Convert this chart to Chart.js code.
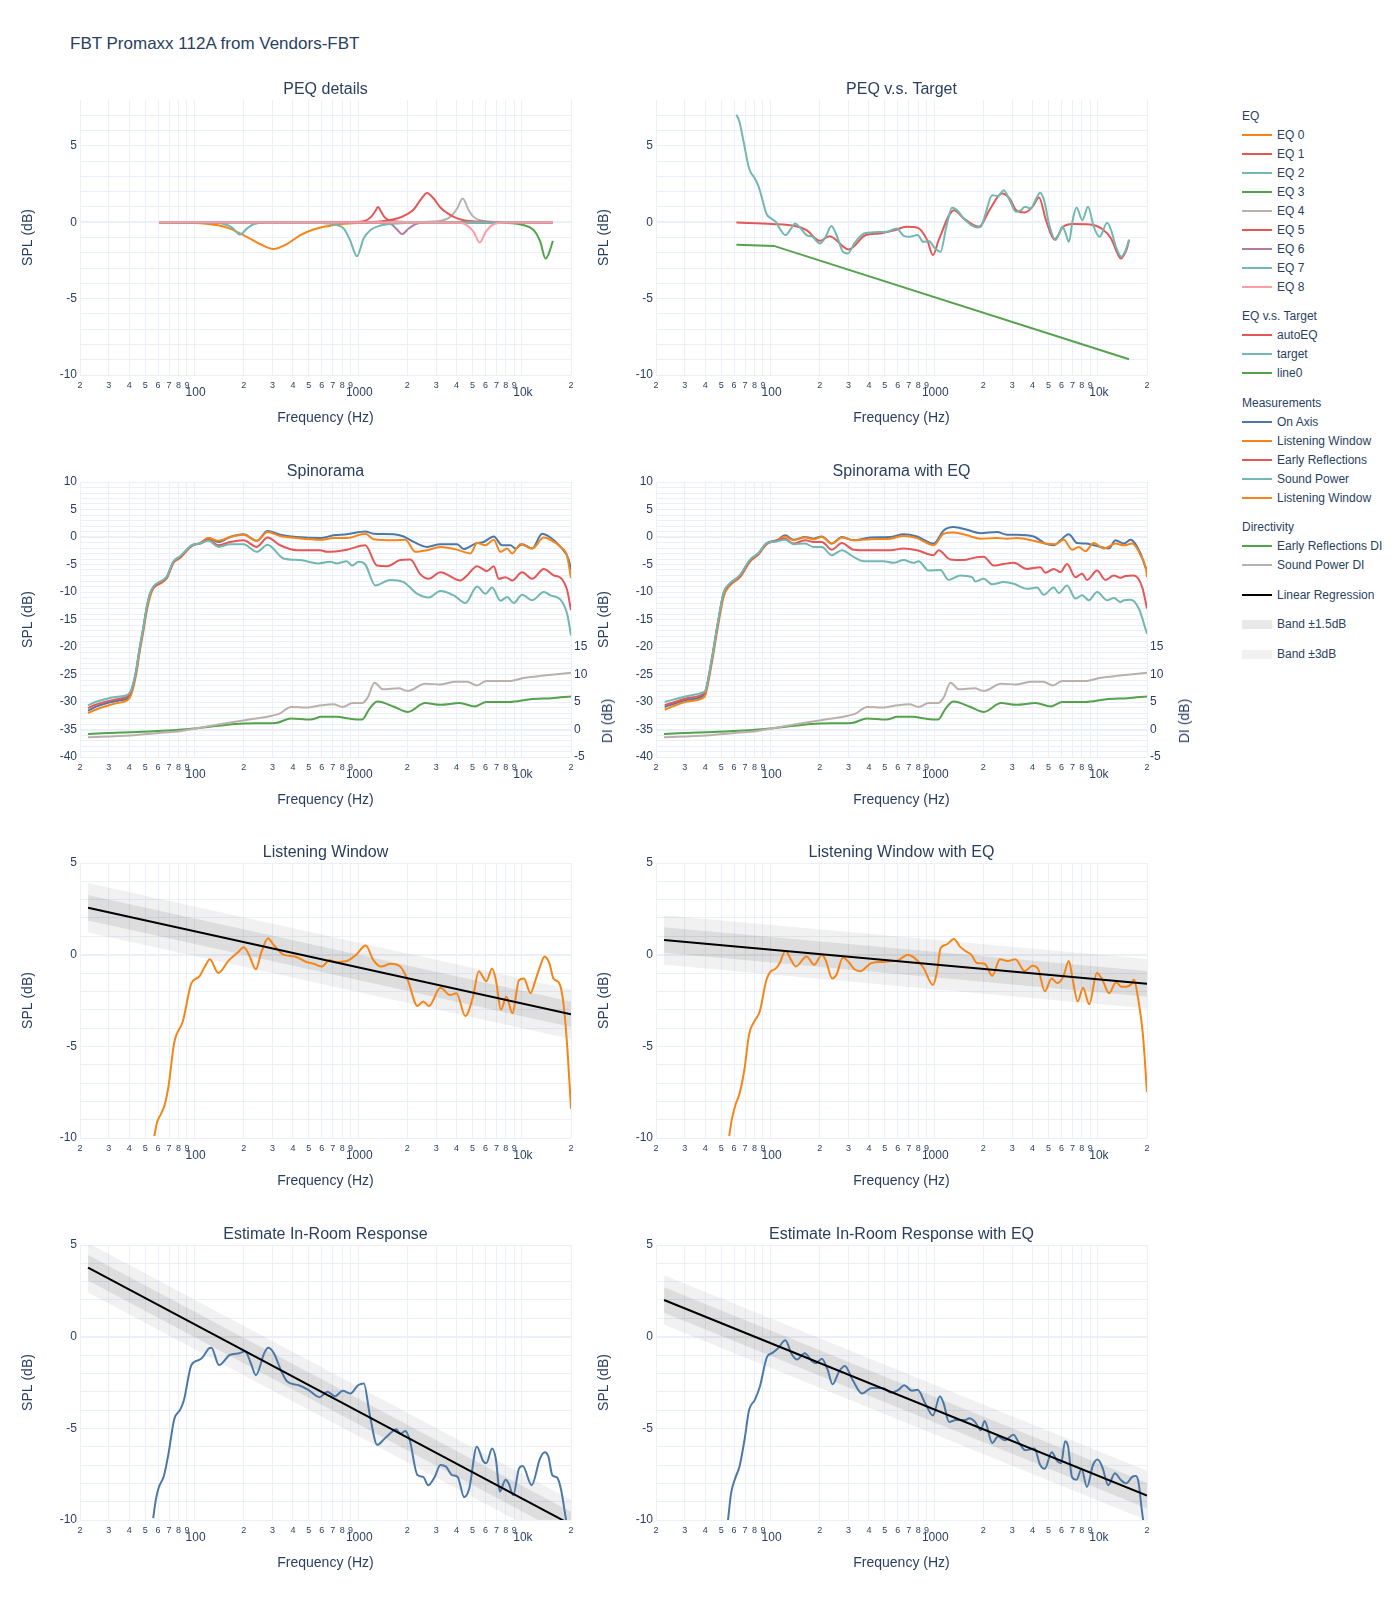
<!DOCTYPE html>
<html>
<head>
<meta charset="utf-8">
<title>FBT Promaxx 112A from Vendors-FBT</title>
<script src="https://cdn.jsdelivr.net/npm/chart.js@4.4.1/dist/chart.umd.min.js"></script>
<style>
    body { margin: 0; background: #fff; font-family: "Liberation Sans", Arial, sans-serif; color: #2a3f5f; }
    #page { position: relative; width: 1400px; height: 1600px; overflow: hidden; }
    #page canvas { position: absolute; }
    .main-title { position: absolute; left: 70px; top: 34px; font-size: 17px; line-height: 20px; z-index: 2; }
    .vtitle { position: absolute; font-size: 14px; white-space: nowrap; transform: translate(-50%, -50%) rotate(-90deg); z-index: 2; }
    #legend { position: absolute; left: 1242px; top: 106px; font-size: 12px; z-index: 2; }
    .lg-group + .lg-group { margin-top: 10.6px; }
    .lg-row { height: 19px; display: flex; align-items: center; white-space: nowrap; }
    .lg-sw { width: 30px; height: 2px; margin-right: 5px; flex: none; }
    .lg-sw.band { height: 9px; }
</style>
</head>
<body>
<div id="page">
    <div class="main-title">FBT Promaxx 112A from Vendors-FBT</div>
    <div class="vtitle" style="left:607px; top:721px;">DI (dB)</div>
    <div class="vtitle" style="left:1184px; top:721px;">DI (dB)</div>
    <div id="legend"></div>
</div>
<script>
// ---- axis ticks ----
const freqTicks = [20, 30, 40, 50, 60, 70, 80, 90, 100, 200, 300, 400, 500, 600, 700, 800, 900,
    1000, 2000, 3000, 4000, 5000, 6000, 7000, 8000, 9000, 10000, 20000];
const freqTickLabels = ['2', '3', '4', '5', '6', '7', '8', '9', '100', '2', '3', '4', '5', '6', '7', '8', '9',
    '1000', '2', '3', '4', '5', '6', '7', '8', '9', '10k', '2'];
const majorFreqTicks = [100, 1000, 10000];
const diTicks = [-5, 0, 5, 10, 15];

// ---- PEQ details ----
const eqLabels = ['EQ 0', 'EQ 1', 'EQ 2', 'EQ 3', 'EQ 4', 'EQ 5', 'EQ 6', 'EQ 7', 'EQ 8'];
const eqColors = ['#f58518', '#e45756', '#72b7b2', '#54a24b', '#bab0ac', '#e45756', '#b279a2', '#72b7b2', '#ff9da6'];
const eq0Freq = [61, 100, 118, 140, 165, 209, 253, 304, 366, 444, 534, 650, 780, 1000, 2000, 15500];
const eq0Gain = [-0.02, -0.05, -0.1, -0.2, -0.42, -0.96, -1.44, -1.75, -1.44, -0.85, -0.48, -0.26, -0.13, -0.05, 0, 0];
const eq1Freq = [61, 1000, 1100, 1200, 1270, 1324, 1390, 1460, 1550, 1700, 2000, 15500];
const eq1Gain = [0, 0.02, 0.08, 0.35, 0.7, 1.0, 0.65, 0.3, 0.12, 0.05, 0.02, 0];
const eq2Freq = [61, 120, 150, 170, 190, 210, 235, 280, 15500];
const eq2Gain = [0, -0.02, -0.1, -0.35, -0.81, -0.4, -0.1, -0.02, 0];
const eq3Freq = [61, 5000, 7830, 10320, 11840, 12990, 13970, 14640, 15500];
const eq3Gain = [0, 0, -0.04, -0.2, -0.52, -1.29, -2.38, -2.05, -1.22];
const eq4Freq = [61, 2500, 3184, 3660, 4030, 4360, 4740, 5080, 5580, 7040, 15500];
const eq4Gain = [0, 0.02, 0.09, 0.35, 0.9, 1.55, 0.79, 0.35, 0.13, 0.02, 0];
const eq5Freq = [61, 1000, 1370, 1730, 2000, 2186, 2402, 2638, 2898, 3184, 3498, 3840, 4422, 5580, 8000, 15500];
const eq5Gain = [0, 0.01, 0.05, 0.24, 0.53, 0.83, 1.44, 1.92, 1.55, 0.96, 0.61, 0.35, 0.13, 0.04, 0, 0];
const eq6Freq = [61, 1300, 1578, 1730, 1856, 2040, 2300, 2800, 15500];
const eq6Gain = [0, -0.02, -0.1, -0.48, -0.78, -0.41, -0.09, -0.02, 0];
const eq7Freq = [61, 500, 645, 750, 816, 896, 984, 1081, 1187, 1370, 1730, 2500, 15500];
const eq7Gain = [0, -0.02, -0.08, -0.2, -0.4, -1.2, -2.23, -1.07, -0.52, -0.22, -0.09, -0.02, 0];
const eq8Freq = [61, 4000, 4422, 5080, 5540, 6030, 6750, 8000, 15500];
const eq8Gain = [0, -0.02, -0.08, -0.63, -1.33, -0.63, -0.13, -0.02, 0];
const eqFreqs = [eq0Freq, eq1Freq, eq2Freq, eq3Freq, eq4Freq, eq5Freq, eq6Freq, eq7Freq, eq8Freq];
const eqGains = [eq0Gain, eq1Gain, eq2Gain, eq3Gain, eq4Gain, eq5Gain, eq6Gain, eq7Gain, eq8Gain];

// ---- PEQ v.s. Target ----
const targetFreq = [62, 64.7, 68.3, 74.1, 80.3, 84.8, 89.5, 94.4, 101.3, 108, 114, 123.6, 134, 141.4, 153.3, 166.2,
    180.2, 200.7, 217.7, 236, 255.8, 277.5, 297.6, 326, 373, 438.6, 515, 590, 657, 712, 793, 860, 933, 1010, 1096,
    1188, 1288, 1397, 1515, 1687, 1829, 1930, 2036, 2268, 2458, 2668, 2892, 3170, 3398, 3588, 3890, 4216, 4450,
    4696, 5090, 5520, 5824, 6082, 6316, 6666, 7034, 7424, 8048, 8726, 9460, 10260, 11426, 12062, 12932, 13948,
    14956, 15538];
const targetSpl = [7.05, 6.57, 5.37, 3.52, 2.86, 2.32, 1.45, 0.57, 0.24, 0.02, -0.41, -0.84, -0.41, -0.08, -0.41,
    -0.84, -0.95, -1.39, -0.95, -0.25, -0.95, -1.93, -2.04, -1.39, -0.74, -0.65, -0.62, -0.41, -0.91, -0.95, -0.84,
    -1.28, -1.24, -1.71, -1.93, -0.30, 0.94, 0.73, 0.25, -0.19, -0.34, -0.30, 0.36, 1.77, 1.71, 2.10, 1.45, 0.68,
    0.79, 1.01, 0.90, 1.56, 1.93, 1.45, -0.30, -1.17, -0.74, -0.30, -0.62, -1.28, 0.14, 0.97, 0.14, 1.01, -0.30,
    -0.95, -0.04, -0.52, -1.61, -2.26, -1.71, -1.13];
const autoEqFreq = [62, 102.4, 141.4, 166.2, 200.7, 229.7, 300.8, 383, 462.8, 574, 675, 793, 908, 984, 1067, 1324,
    1515, 1879, 2209, 2596, 2892, 3170, 3588, 3996, 4378, 4826, 5432, 6148, 7034, 8966, 10538, 12062, 12932,
    13802, 14956, 15538];
const autoEqSpl = [-0.02, -0.12, -0.25, -0.52, -1.22, -0.91, -1.78, -0.84, -0.74, -0.52, -0.30, -0.36, -1.17, -2.15,
    -1.17, 0.79, 0.25, -0.30, 0.90, 1.88, 1.56, 0.79, 0.64, 1.01, 1.62, 0.14, -1.13, -0.30, -0.12, -0.15, -0.41,
    -1.06, -1.82, -2.37, -1.82, -1.2];
const line0Freq = [62, 105, 15538];
const line0Spl = [-1.47, -1.55, -8.97];

// ---- Spinorama ----
const onAxisFreq = [22.4, 24.9, 30.1, 35.0, 39.0, 41.0, 43.9, 46.1, 48.7, 51.1, 53.6, 56.2, 61.7, 67.8, 74.5, 81.8,
    96.4, 108.4, 121.9, 140.4, 165.4, 199.5, 240.8, 279.8, 334.4, 422.8, 587.6, 708.6, 855, 1107, 1245, 1650, 1899,
    2186, 2638, 3184, 4026, 4422, 5212, 5860, 6746, 7586, 8532, 9154, 10054, 11578, 13326, 14986, 17254, 19400, 20000];
const onAxisSpl = [-31.6, -30.9, -30.1, -29.7, -29.3, -28.3, -24.8, -20.8, -16.8, -13.0, -10.4, -9.1, -8.2, -7.3,
    -4.5, -3.6, -1.5, -1.1, -0.2, -0.9, 0.0, 0.5, -0.7, 1.1, 0.4, 0.0, -0.2, 0.3, 0.5, 1.0, 0.6, 0.5, 0.1, -0.9,
    -1.8, -1.3, -1.3, -2.2, -1.2, -0.9, 0.1, -1.5, -1.5, -2.1, -1.3, -2.1, 0.6, -0.1, -1.8, -4.2, -6.0];
const lwFreq = [22.4, 24.9, 30.1, 35.0, 39.0, 41.0, 43.9, 46.1, 48.7, 51.1, 53.6, 56.2, 61.7, 67.8, 74.5, 81.8, 96.4,
    108.4, 121.9, 140.4, 165.4, 199.5, 240.8, 279.8, 334.4, 422.8, 587.6, 708.6, 855, 1107, 1245, 1650, 1944, 2238,
    2638, 3184, 4026, 4422, 4856, 5336, 6000, 6746, 7410, 8140, 8736, 9820, 11578, 13642, 14986, 17254, 18952, 20000];
const lwSpl = [-32.0, -31.4, -30.6, -30.1, -29.7, -28.7, -25.3, -21.3, -17.3, -13.5, -10.9, -9.3, -8.5, -7.5, -4.7,
    -3.8, -1.6, -1.1, -0.2, -0.7, 0.0, 0.4, -0.7, 0.9, 0.2, -0.2, -0.5, -0.2, -0.2, 0.6, -0.4, -0.6, -0.5, -2.7,
    -2.4, -1.8, -2.3, -2.7, -3.0, -1.1, -1.5, -0.5, -2.7, -2.1, -3.0, -1.3, -2.1, -0.1, -0.5, -1.8, -3.5, -7.5];
const erFreq = [22.4, 24.9, 30.1, 35.0, 39.0, 41.0, 43.9, 46.1, 48.7, 51.1, 53.6, 56.2, 61.7, 67.8, 74.5, 81.8, 96.4,
    108.4, 121.9, 140.4, 165.4, 199.5, 240.8, 279.8, 334.4, 422.8, 587.6, 645, 855, 1107, 1305, 1502, 1812, 2086,
    2402, 2702, 3184, 4220, 4634, 5336, 6144, 6746, 7238, 7952, 8736, 10054, 11578, 13642, 15704, 17254, 18952, 20000];
const erSpl = [-31.1, -30.5, -29.8, -29.4, -29.0, -28.1, -24.6, -20.6, -16.6, -12.9, -10.3, -9.2, -8.3, -7.4, -4.6,
    -3.7, -1.6, -1.2, -0.5, -1.5, -0.9, -0.6, -1.8, -0.1, -1.5, -2.4, -2.4, -2.7, -2.3, -1.5, -5.2, -5.3, -4.2,
    -4.1, -6.8, -7.6, -6.4, -7.9, -7.0, -5.3, -6.2, -5.3, -7.6, -7.3, -7.9, -6.4, -7.6, -5.8, -7.0, -7.4, -9.7, -13.3];
const spFreq = [22.4, 24.9, 30.1, 35.0, 39.0, 41.0, 43.9, 46.1, 48.7, 51.1, 53.6, 56.2, 61.7, 67.8, 74.5, 81.8, 96.4,
    108.4, 121.9, 140.4, 165.4, 199.5, 240.8, 279.8, 350.4, 443, 574, 676, 743, 855, 918, 1008, 1107, 1275, 1574,
    1899, 2292, 2702, 3184, 3840, 4526, 5336, 6000, 6590, 7410, 8140, 8944, 10054, 11578, 13642, 14986, 17254,
    18952, 20000];
const spSpl = [-30.6, -30.0, -29.3, -29.0, -28.7, -27.9, -24.5, -20.5, -16.5, -12.8, -10.2, -9.0, -8.1, -7.2, -4.4,
    -3.5, -1.5, -1.2, -0.7, -1.8, -1.3, -1.3, -2.7, -1.4, -3.9, -4.2, -4.8, -4.5, -4.8, -4.4, -5.2, -4.5, -5.0,
    -8.8, -7.8, -8.2, -10.3, -11.0, -9.8, -10.6, -12.0, -9.0, -10.3, -9.2, -11.6, -10.9, -12.0, -10.5, -11.5,
    -10.0, -10.6, -11.4, -14.0, -17.9];
const erDiFreq = [22.4, 40.5, 69.4, 101.3, 204, 314, 389.6, 510, 600, 744, 874, 1056, 1176, 1310, 1669, 2015, 2568,
    3186, 4172, 5174, 6082, 8404, 11302, 15204, 20000];
const erDi = [-0.8, -0.5, -0.2, 0.2, 1.1, 1.2, 2.0, 1.8, 2.3, 2.3, 2.0, 1.8, 3.8, 5.1, 4.1, 3.2, 4.8, 4.5, 4.8, 4.2,
    5.0, 5.0, 5.5, 5.7, 6.0];
const spDiFreq = [22.4, 40.5, 62.4, 81.6, 101.3, 139.9, 204, 297.6, 331.4, 389.6, 483, 600, 705, 806, 923, 1056,
    1144, 1261, 1420, 1762, 2015, 2568, 3186, 3952, 4646, 5316, 6082, 8404, 10428, 13654, 20000];
const spDi = [-1.4, -1.1, -0.6, -0.3, 0.2, 0.9, 1.7, 2.5, 2.9, 4.1, 4.0, 4.4, 4.6, 4.1, 4.8, 4.8, 5.8, 8.5, 7.3,
    7.5, 7.0, 8.3, 8.2, 8.7, 8.7, 8.0, 8.8, 8.8, 9.4, 9.8, 10.3];

// ---- Spinorama with EQ ----
const onAxisEqFreq = [22.6, 30.1, 39.0, 40.1, 43.7, 47.6, 51.9, 56.7, 65.3, 75.1, 84.5, 95.0, 109.4, 123, 138.4, 163,
    183.4, 206.2, 237.4, 273.4, 322, 407.4, 539.8, 651, 786, 994, 1144, 1317, 1589, 1917, 2424, 2792, 3212, 4064,
    4788, 5386, 5914, 6650, 7480, 8412, 9458, 10388, 11684, 12834, 14434, 15854, 18252, 19580, 20000];
const onAxisEqSpl = [-30.9, -29.7, -28.8, -28.3, -22.7, -16.0, -10.2, -8.5, -7.0, -4.2, -3.0, -1.1, -0.6, 0.3, -0.5,
    0.0, -0.3, 0.1, -1.2, 0.0, -0.6, -0.1, 0.0, 0.5, 0.1, -1.2, 1.2, 1.8, 1.3, 0.7, 0.9, 0.4, 0.4, 0.1, -1.2, -1.5,
    -0.6, 0.5, -1.1, -1.2, -1.5, -1.8, -2.1, -0.6, -1.2, -0.5, -3.0, -5.5, -6.0];
const lwEqFreq = [22.6, 30.1, 39.0, 40.1, 43.7, 47.6, 51.9, 56.7, 65.3, 75.1, 84.5, 95.0, 109.4, 123, 138.4, 163,
    183.4, 206.2, 237.4, 273.4, 322, 407.4, 539.8, 651, 786, 994, 1144, 1317, 1589, 1917, 2424, 2792, 3212, 4064,
    4788, 5512, 6198, 6970, 7658, 8412, 9458, 10890, 12834, 14434, 16230, 18252, 19860, 20000];
const lwEqSpl = [-31.4, -30.0, -29.2, -28.7, -23.2, -16.6, -10.8, -8.8, -7.3, -4.5, -3.2, -1.3, -0.7, 0.1, -0.6,
    -0.1, -0.4, 0.0, -1.2, -0.1, -0.6, -0.4, -0.3, 0.2, -0.2, -1.5, 0.6, 0.8, 0.3, -0.3, -0.2, -0.3, -0.2, -0.7,
    -1.2, -1.3, -0.5, -2.3, -1.8, -2.6, -1.1, -2.1, -1.2, -1.5, -1.2, -3.3, -6.4, -7.3];
const erEqFreq = [22.6, 30.1, 39.0, 40.1, 43.7, 47.6, 51.9, 56.7, 65.3, 75.1, 84.5, 95.0, 109.4, 123, 138.4, 163,
    183.4, 206.2, 237.4, 273.4, 322, 407.4, 539.8, 651, 786, 994, 1066, 1257, 1516, 1746, 2009, 2314, 2664, 3066,
    3700, 4462, 4788, 5386, 5914, 6496, 7306, 8026, 8610, 9912, 11148, 12538, 13772, 14776, 16614, 18684, 20000];
const erEqSpl = [-30.6, -29.4, -28.5, -28.1, -22.5, -15.9, -10.1, -8.6, -7.1, -4.3, -3.1, -1.2, -0.7, -0.3, -1.2,
    -0.6, -0.9, -0.9, -2.3, -1.1, -2.3, -2.4, -2.4, -2.1, -2.4, -3.3, -2.4, -4.1, -4.2, -3.8, -3.6, -5.2, -4.9,
    -4.7, -5.8, -5.5, -6.5, -5.8, -6.4, -4.9, -7.3, -6.7, -7.8, -6.1, -7.8, -7.0, -7.4, -7.1, -7.0, -9.1, -13.0];
const spEqFreq = [22.6, 30.1, 39.0, 40.1, 43.7, 47.6, 51.9, 56.7, 65.3, 75.1, 84.5, 95.0, 109.4, 123, 138.4, 163,
    183.4, 206.2, 237.4, 273.4, 322, 370.8, 491.4, 565.8, 651, 750, 804, 926, 1092, 1228, 1447, 1705, 1787, 2009,
    2260, 2664, 3066, 3700, 4258, 4678, 5386, 5778, 6496, 7306, 8026, 8816, 9912, 11412, 12538, 13772, 14434,
    15854, 17830, 19580, 20000];
const spEqSpl = [-30.0, -29.0, -28.2, -27.9, -22.4, -15.8, -10.0, -8.4, -6.9, -4.1, -2.9, -1.1, -0.8, -0.5, -1.3,
    -1.2, -1.8, -1.8, -3.3, -2.4, -3.6, -4.4, -4.4, -4.7, -4.2, -4.7, -4.4, -6.1, -6.0, -7.8, -7.0, -7.3, -8.1,
    -7.6, -8.6, -8.2, -8.5, -9.4, -9.2, -10.5, -9.2, -10.2, -8.8, -11.2, -10.6, -11.5, -10.0, -11.5, -11.1, -11.8,
    -11.5, -11.4, -13.0, -16.7, -17.6];

// ---- Listening Window ----
const lwNormFreq = [56.9, 59.1, 62.4, 65.8, 69.4, 75.3, 85.2, 95.9, 106.9, 115.9, 124.3, 139.9, 162.7, 183.2, 200.7,
    215.4, 237.4, 255.8, 282, 300.8, 349.6, 411, 483, 538, 600, 668, 744, 851, 974, 1114, 1241, 1382, 1581, 1809,
    2015, 2306, 2500, 2710, 3186, 3646, 3996, 4522, 5036, 5462, 6082, 6594, 6958, 7466, 8048, 8774, 9616, 10316,
    11302, 12122, 12932, 13802, 14798, 15618, 16934, 18064, 19066, 20000];
const lwNormSpl = [-9.9, -9.15, -8.7, -8.2, -7.2, -4.8, -3.6, -1.55, -1.2, -0.65, -0.25, -1.0, -0.3, 0.1, 0.4, 0.0,
    -0.8, 0.1, 0.9, 0.6, 0.0, -0.1, -0.4, -0.5, -0.65, -0.3, -0.4, -0.35, 0.0, 0.5, -0.3, -0.65, -0.5, -0.65, -1.4,
    -2.8, -2.55, -2.8, -1.8, -2.2, -2.1, -3.35, -2.3, -0.9, -1.45, -0.75, -1.4, -3.0, -2.3, -3.2, -1.4, -1.3, -2.1,
    -1.4, -0.65, -0.1, -0.5, -1.3, -1.55, -2.8, -5.3, -8.4];
const lwEqNormFreq = [56.0, 58.1, 61.4, 64.7, 69.4, 74.1, 80.3, 86.1, 94.4, 99.6, 108, 114, 123.6, 134, 143, 166.2,
    185.2, 206.2, 217.7, 238.6, 253.2, 277.5, 300.8, 326, 353.6, 415.6, 488.6, 559, 606, 693, 752, 860, 984, 1039,
    1096, 1188, 1324, 1435, 1556, 1687, 1829, 2036, 2268, 2528, 2816, 3134, 3588, 3996, 4332, 4748, 5232, 5672,
    6148, 6666, 7034, 7548, 8136, 8872, 9880, 10652, 11740, 12932, 13948, 14956, 16044, 16660, 17584, 18858, 20000];
const lwEqNormSpl = [-9.9, -9.0, -8.15, -7.6, -6.25, -4.35, -3.6, -3.1, -1.4, -0.95, -0.75, -0.45, 0.2, -0.3,
    -0.65, -0.1, -0.55, 0.0, -0.3, -1.3, -1.1, -0.15, -0.4, -0.8, -0.9, -0.45, -0.4, -0.35, -0.3, 0.0, -0.15, -0.7,
    -1.65, -1.0, 0.35, 0.55, 0.85, 0.45, 0.2, 0.0, -0.45, -0.5, -1.15, -0.25, -0.35, -0.25, -0.9, -0.6, -0.8, -2.0,
    -1.3, -1.55, -1.2, -0.35, -1.35, -2.55, -1.8, -2.7, -1.0, -1.35, -2.1, -1.5, -1.75, -1.75, -1.6, -1.35, -2.3,
    -4.3, -7.5];

// ---- Estimated In-Room Response ----
const pirFreq = [56.0, 58.1, 60.7, 65.1, 69.4, 75.3, 81.6, 86.1, 95.9, 106.9, 112.8, 122.3, 127, 141.4, 164.4, 188.2,
    204, 221.2, 237.4, 267.2, 282, 305.8, 340.4, 369.2, 434, 496.6, 583, 650, 724, 806, 898, 1000, 1085, 1176, 1310,
    1420, 1539, 1715, 1809, 1940, 2070, 2306, 2500, 2682, 2938, 3186, 3454, 3746, 4060, 4450, 4774, 5316, 5824,
    6082, 6594, 6958, 7344, 7962, 8314, 8872, 9616, 10150, 11486, 12932, 13802, 14562, 15368, 16482, 17394, 18658];
const pirSpl = [-9.9, -8.9, -8.2, -7.6, -6.4, -4.5, -4.0, -3.5, -1.55, -1.27, -1.1, -0.65, -0.6, -1.55, -1.0, -0.9,
    -0.8, -1.45, -2.1, -0.9, -0.6, -0.9, -1.9, -2.45, -2.65, -2.9, -3.3, -3.0, -3.25, -2.95, -3.1, -2.65, -2.55,
    -4.2, -5.9, -5.65, -5.35, -5.05, -5.3, -5.15, -5.65, -7.55, -7.65, -8.1, -7.65, -7.0, -7.1, -7.55, -7.65, -8.75,
    -8.3, -6.0, -6.8, -6.9, -6.1, -6.7, -8.45, -7.8, -8.0, -8.65, -7.2, -7.05, -8.1, -6.65, -6.3, -6.55, -7.55,
    -7.7, -8.35, -10.0];
const pirEqFreq = [55.1, 57.5, 61.4, 64.7, 69.4, 74.1, 80.3, 86.1, 95.4, 102.4, 111, 123.6, 134, 145.3, 161.8, 180.2,
    190.2, 206.2, 223.6, 239.8, 262.9, 285, 317.5, 363, 415.6, 488.6, 544, 606, 657, 732, 793, 884, 984, 1085, 1145,
    1234, 1360, 1556, 1642, 1780, 1930, 2036, 2268, 2458, 2710, 3052, 3308, 3626, 4104, 4450, 4748, 5232, 5672,
    5984, 6316, 6594, 6958, 7424, 7962, 8588, 9358, 9984, 10652, 11612, 12726, 13802, 14956, 16218, 17116, 17800,
    18500, 19066];
const pirEqSpl = [-10.0, -8.55, -7.65, -7.1, -5.65, -4.0, -3.45, -2.75, -1.1, -0.9, -0.65, -0.2, -0.9, -1.25, -0.9,
    -1.35, -1.45, -1.2, -1.8, -2.6, -1.9, -1.6, -2.35, -3.1, -2.8, -2.8, -3.05, -2.9, -2.65, -2.95, -2.9, -3.65,
    -4.3, -3.25, -3.65, -4.65, -4.55, -4.55, -4.45, -4.65, -5.1, -4.6, -5.8, -5.45, -5.65, -5.35, -5.8, -6.2, -6.1,
    -7.0, -7.2, -6.3, -6.8, -6.9, -5.7, -6.0, -7.65, -7.8, -7.2, -8.2, -7.0, -6.7, -7.1, -8.1, -7.45, -7.8, -8.0,
    -7.65, -7.6, -8.0, -9.3, -10.2];

// ---- linear regressions (end points) and band half widths ----
const regFreq = [22.4, 20000];
const lwRegSpl = [2.56, -3.25];
const lwEqRegSpl = [0.8, -1.59];
const pirRegSpl = [3.76, -10.25];
const pirEqRegSpl = [2.0, -8.67];
const bandInner = 0.7;
const bandOuter = 1.35;

// ---- look ----
const FONT = '"Liberation Sans", Arial, sans-serif';
const TEXT = '#2a3f5f';
const GRID = '#ebf0f8';
const BLUE = '#4c78a8', ORANGE = '#f58518', RED = '#e45756', TEAL = '#72b7b2', GREEN = '#54a24b', GRAY = '#bab0ac';
const BAND_INNER_FILL = 'rgba(0,0,0,0.085)';
const BAND_OUTER_FILL = 'rgba(0,0,0,0.055)';

const COL_LEFT = [80, 656];
const ROW_TOP = [100, 482, 863, 1245];
const PLOT_W = 491;

Chart.defaults.font.family = FONT;
Chart.defaults.color = TEXT;

function pts(freqs, vals) {
    return freqs.map((f, i) => ({ x: f, y: vals[i] }));
}

function curve(label, freqs, vals, color, extra) {
    return Object.assign({
        label: label,
        data: pts(freqs, vals),
        borderColor: color,
        backgroundColor: color,
        borderWidth: 2,
        pointRadius: 0,
        fill: false,
        cubicInterpolationMode: 'monotone'
    }, extra || {});
}

function shifted(vals, d) {
    return vals.map(v => v + d);
}

// curve + regression line + two bands
function regressionDatasets(label, freqs, vals, color, regSpl) {
    const edge = { borderWidth: 0, borderColor: 'rgba(0,0,0,0)', pointRadius: 0 };
    return [
        curve(label, freqs, vals, color, { order: 0 }),
        curve('Linear Regression', regFreq, regSpl, '#000', { order: -1, cubicInterpolationMode: 'default', tension: 0 }),
        Object.assign({ label: 'Band ±3dB', data: pts(regFreq, shifted(regSpl, bandOuter)), fill: '+1', backgroundColor: BAND_OUTER_FILL, order: 1 }, edge),
        Object.assign({ label: '', data: pts(regFreq, shifted(regSpl, -bandOuter)), fill: false, order: 1 }, edge),
        Object.assign({ label: 'Band ±1.5dB', data: pts(regFreq, shifted(regSpl, bandInner)), fill: '+1', backgroundColor: BAND_INNER_FILL, order: 2 }, edge),
        Object.assign({ label: '', data: pts(regFreq, shifted(regSpl, -bandInner)), fill: false, order: 2 }, edge)
    ];
}

function intRange(a, b) {
    const out = [];
    for (let v = a; v <= b; v++) out.push(v);
    return out;
}

function makeChart(cfg) {
    const canvas = document.createElement('canvas');
    canvas.width = PLOT_W + 160;
    canvas.height = 351;
    canvas.style.left = (COL_LEFT[cfg.col] - 80) + 'px';
    canvas.style.top = (ROW_TOP[cfg.row] - 20) + 'px';
    canvas.style.width = canvas.width + 'px';
    canvas.style.height = canvas.height + 'px';
    document.getElementById('page').appendChild(canvas);

    const zeroLines = cfg.zeroLines || [0];
    const scales = {
        x: {
            type: 'logarithmic',
            min: 20,
            max: 20000,
            afterBuildTicks: axis => { axis.ticks = freqTicks.map(v => ({ value: v })); },
            afterFit: axis => { axis.height = 56; },
            ticks: {
                autoSkip: false,
                maxRotation: 0,
                minRotation: 0,
                padding: 5,
                color: TEXT,
                // decade labels sit a bit lower and to the right of their grid line
                callback: (v, i) => majorFreqTicks.includes(v) ? ['', '\u2009' + freqTickLabels[i]] : freqTickLabels[i],
                font: ctx => (ctx.tick && majorFreqTicks.includes(ctx.tick.value))
                    ? { size: 12, lineHeight: 0.7 }
                    : { size: 9 }
            },
            grid: { color: GRID, drawTicks: false },
            border: { display: false },
            title: { display: true, text: 'Frequency (Hz)', color: TEXT, font: { size: 14 }, padding: { top: 4, bottom: 4 } }
        },
        y: {
            type: 'linear',
            min: cfg.yMin,
            max: cfg.yMax,
            afterBuildTicks: axis => { axis.ticks = cfg.yTicks.map(v => ({ value: v })); },
            afterFit: axis => { axis.width = 64; },
            ticks: {
                autoSkip: false,
                padding: 3,
                color: TEXT,
                font: { size: 12 },
                callback: v => (v % 5 === 0 ? String(v) : '')
            },
            grid: {
                color: GRID,
                drawTicks: false,
                lineWidth: ctx => (ctx.tick && zeroLines.includes(ctx.tick.value) ? 2 : 1)
            },
            border: { display: false },
            title: { display: true, text: 'SPL (dB)', color: TEXT, font: { size: 14 }, padding: { top: 4, bottom: 4 } }
        }
    };
    if (cfg.di) {
        scales.y1 = {
            type: 'linear',
            position: 'right',
            min: -5,
            max: 45,
            afterBuildTicks: axis => { axis.ticks = diTicks.map(v => ({ value: v })); },
            afterFit: axis => { axis.width = 64; },
            ticks: { autoSkip: false, padding: 3, color: TEXT, font: { size: 12 } },
            grid: { display: false, drawTicks: false },
            border: { display: false }
        };
    }

    return new Chart(canvas, {
        type: 'line',
        data: { datasets: cfg.datasets },
        options: {
            responsive: false,
            animation: false,
            events: [],
            layout: { padding: { left: 16, right: cfg.di ? 16 : 80, top: 0, bottom: 0 } },
            plugins: {
                legend: { display: false },
                tooltip: { enabled: false },
                title: {
                    display: true,
                    text: cfg.title,
                    fullSize: false,
                    color: TEXT,
                    font: { size: 16, weight: 'normal', lineHeight: 1.2 },
                    padding: { top: 0, bottom: 0.8 }
                }
            },
            scales: scales
        }
    });
}

// later traces on top, like the original
function stack(list) {
    return list.map((d, i) => Object.assign(d, { order: -i }));
}

makeChart({
    row: 0, col: 0, title: 'PEQ details', yMin: -10, yMax: 8, yTicks: intRange(-10, 7),
    datasets: stack(eqLabels.map((l, i) => curve(l, eqFreqs[i], eqGains[i], eqColors[i])))
});

makeChart({
    row: 0, col: 1, title: 'PEQ v.s. Target', yMin: -10, yMax: 8, yTicks: intRange(-10, 7),
    datasets: stack([
        curve('autoEQ', autoEqFreq, autoEqSpl, RED),
        curve('target', targetFreq, targetSpl, TEAL),
        curve('line0', line0Freq, line0Spl, GREEN, { cubicInterpolationMode: 'default', tension: 0 })
    ])
});

makeChart({
    row: 1, col: 0, title: 'Spinorama', yMin: -40, yMax: 10, yTicks: intRange(-40, 10), di: true, zeroLines: [0, -35],
    datasets: stack([
        curve('On Axis', onAxisFreq, onAxisSpl, BLUE),
        curve('Listening Window', lwFreq, lwSpl, ORANGE),
        curve('Early Reflections', erFreq, erSpl, RED),
        curve('Sound Power', spFreq, spSpl, TEAL),
        curve('Early Reflections DI', erDiFreq, erDi, GREEN, { yAxisID: 'y1' }),
        curve('Sound Power DI', spDiFreq, spDi, GRAY, { yAxisID: 'y1' })
    ])
});

makeChart({
    row: 1, col: 1, title: 'Spinorama with EQ', yMin: -40, yMax: 10, yTicks: intRange(-40, 10), di: true, zeroLines: [0, -35],
    datasets: stack([
        curve('On Axis', onAxisEqFreq, onAxisEqSpl, BLUE),
        curve('Listening Window', lwEqFreq, lwEqSpl, ORANGE),
        curve('Early Reflections', erEqFreq, erEqSpl, RED),
        curve('Sound Power', spEqFreq, spEqSpl, TEAL),
        curve('Early Reflections DI', erDiFreq, erDi, GREEN, { yAxisID: 'y1' }),
        curve('Sound Power DI', spDiFreq, spDi, GRAY, { yAxisID: 'y1' })
    ])
});

makeChart({
    row: 2, col: 0, title: 'Listening Window', yMin: -10, yMax: 5, yTicks: intRange(-10, 5),
    datasets: regressionDatasets('Listening Window', lwNormFreq, lwNormSpl, ORANGE, lwRegSpl)
});

makeChart({
    row: 2, col: 1, title: 'Listening Window with EQ', yMin: -10, yMax: 5, yTicks: intRange(-10, 5),
    datasets: regressionDatasets('Listening Window', lwEqNormFreq, lwEqNormSpl, ORANGE, lwEqRegSpl)
});

makeChart({
    row: 3, col: 0, title: 'Estimate In-Room Response', yMin: -10, yMax: 5, yTicks: intRange(-10, 5),
    datasets: regressionDatasets('Estimated In-Room Response', pirFreq, pirSpl, BLUE, pirRegSpl)
});

makeChart({
    row: 3, col: 1, title: 'Estimate In-Room Response with EQ', yMin: -10, yMax: 5, yTicks: intRange(-10, 5),
    datasets: regressionDatasets('Estimated In-Room Response', pirEqFreq, pirEqSpl, BLUE, pirEqRegSpl)
});

// ---- legend ----
const legendGroups = [
    { title: 'EQ', items: eqLabels.map((l, i) => [l, eqColors[i], 'line']) },
    { title: 'EQ v.s. Target', items: [['autoEQ', RED, 'line'], ['target', TEAL, 'line'], ['line0', GREEN, 'line']] },
    { title: 'Measurements', items: [['On Axis', BLUE, 'line'], ['Listening Window', ORANGE, 'line'],
        ['Early Reflections', RED, 'line'], ['Sound Power', TEAL, 'line'], ['Listening Window', ORANGE, 'line']] },
    { title: 'Directivity', items: [['Early Reflections DI', GREEN, 'line'], ['Sound Power DI', GRAY, 'line']] },
    { title: null, items: [['Linear Regression', '#000', 'line']] },
    { title: null, items: [['Band ±1.5dB', BAND_INNER_FILL, 'band']] },
    { title: null, items: [['Band ±3dB', BAND_OUTER_FILL, 'band']] }
];

const legendEl = document.getElementById('legend');
legendGroups.forEach(group => {
    const g = document.createElement('div');
    g.className = 'lg-group';
    if (group.title) {
        const h = document.createElement('div');
        h.className = 'lg-row';
        h.textContent = group.title;
        g.appendChild(h);
    }
    group.items.forEach(([label, color, kind]) => {
        const row = document.createElement('div');
        row.className = 'lg-row';
        const sw = document.createElement('span');
        sw.className = 'lg-sw' + (kind === 'band' ? ' band' : '');
        sw.style.background = color;
        row.appendChild(sw);
        row.appendChild(document.createTextNode(label));
        g.appendChild(row);
    });
    legendEl.appendChild(g);
});
</script>
</body>
</html>
